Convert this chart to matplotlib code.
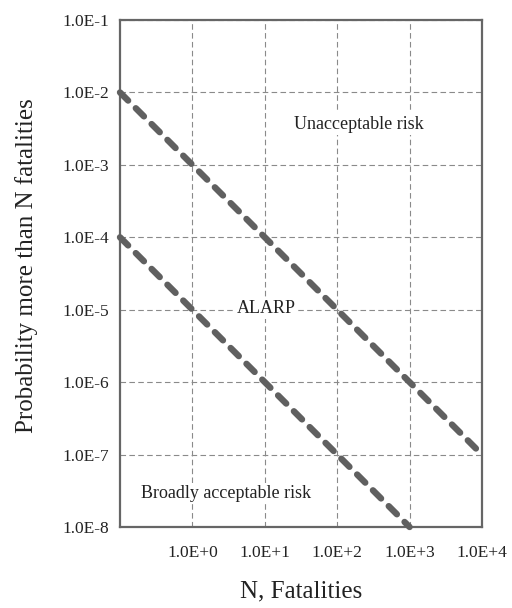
import matplotlib
matplotlib.use("Agg")
import matplotlib.pyplot as plt
import numpy as np

plt.rcParams['font.family'] = ['Liberation Serif', 'DejaVu Serif']

# F-N criterion lines (end points)
upper_n = [0.1, 1e4]
upper_p = [1e-2, 1e-7]
lower_n = [0.1, 1e3]
lower_p = [1e-4, 1e-8]

x_ticks = [1e0, 1e1, 1e2, 1e3, 1e4]
x_labels = ["1.0E+0", "1.0E+1", "1.0E+2", "1.0E+3", "1.0E+4"]
y_ticks = [1e-8, 1e-7, 1e-6, 1e-5, 1e-4, 1e-3, 1e-2, 1e-1]
y_labels = ["1.0E-8", "1.0E-7", "1.0E-6", "1.0E-5", "1.0E-4", "1.0E-3", "1.0E-2", "1.0E-1"]

regions = ["Unacceptable risk", "ALARP", "Broadly acceptable risk"]
region_pos = [(200, 3.66e-3), (10.4, 1.05e-5), (2.9, 2.9e-8)]

fig = plt.figure(figsize=(5.12, 6.08), dpi=100)
ax = fig.add_axes([120/512, 1 - 527/608, 362/512, 507/608])
ax.set_xscale('log')
ax.set_yscale('log')
ax.set_xlim(0.1, 1e4)
ax.set_ylim(1e-8, 1e-1)

ax.set_xticks(x_ticks)
ax.set_xticklabels(x_labels)
ax.set_yticks(y_ticks)
ax.set_yticklabels(y_labels)
ax.minorticks_off()
ax.tick_params(length=0, labelsize=12.5, pad=13, colors='#222222')
ax.tick_params(axis='y', pad=8)

ax.grid(True, which='major', linestyle=(0, (5, 3)), color='#8a8a8a', linewidth=0.8)
ax.set_axisbelow(True)
for s in ax.spines.values():
    s.set_color('#666666')
    s.set_linewidth(1.6)

for n, p in [(upper_n, upper_p), (lower_n, lower_p)]:
    ax.plot(n, p, color='#606060', linewidth=4.6, linestyle=(0, (1.8, 1.7)),
            dash_capstyle='round', solid_capstyle='round', clip_on=False, zorder=3)

for txt, (x, y) in zip(regions, region_pos):
    ax.text(x, y, txt, ha='center', va='center', fontsize=13, color='#222222',
            bbox=dict(facecolor='white', edgecolor='none', pad=1.5), zorder=4)

ax.set_xlabel("N, Fatalities", fontsize=18, labelpad=14, color='#222222')
ax.set_ylabel("Probability more than N fatalities", fontsize=18, color='#222222')
ax.yaxis.set_label_coords(-82/362, 0.515)

fig.savefig("out.png", dpi=100)
